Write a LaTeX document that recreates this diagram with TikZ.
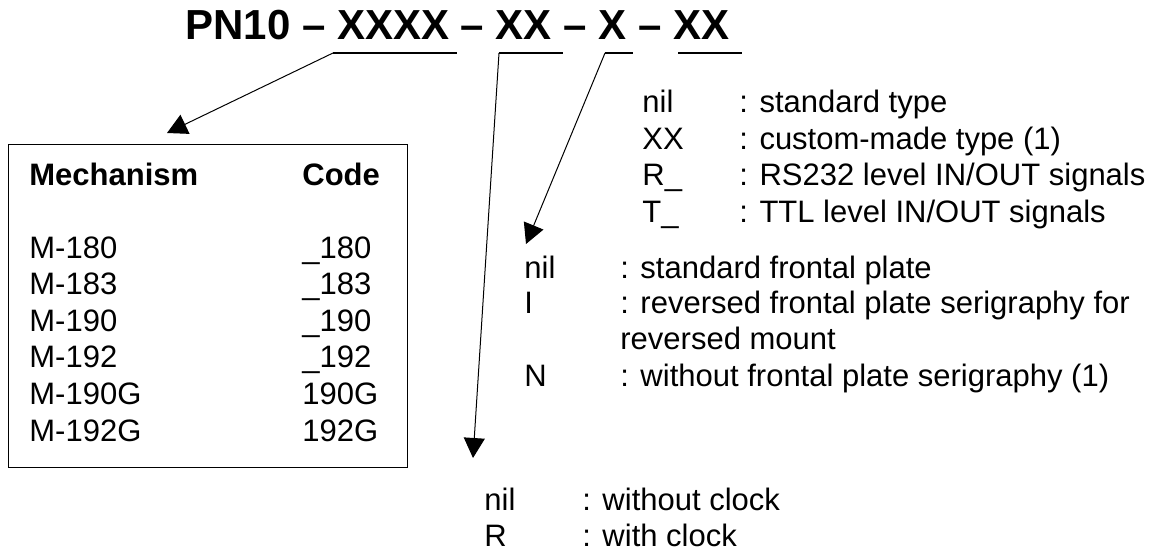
\documentclass[tikz,border=0pt]{standalone}
\usepackage{fontspec}
\setmainfont{Liberation Sans}
\usetikzlibrary{arrows.meta}

\begin{document}
\begin{tikzpicture}
        [   x = 0.5pt
        ,   y = -0.5pt
        ,   txt/.style =
            {   anchor = base west
            ,   inner sep = 0pt
            ,   font = \fontsize{15.5}{18}\selectfont
            }
        ,   head/.style =
            {   txt
            ,   font = \fontsize{15.5}{18}\selectfont\bfseries
            }
        ,   uline/.style =
            {   line width = 0.6pt
            }
        ,   leader/.style =
            {   line width = 0.5pt
            ,   -{Triangle[length=10pt,width=10.5pt]}
            }
        ]
        \useasboundingbox (0,0) rectangle (1160,551);
        % part number and its fields
        \node [txt, font = \fontsize{21}{25}\selectfont\bfseries] (title) at (185,40)
            {PN10 – XXXX – XX – X – XX};
        \coordinate (u1) at (333,53);
        \coordinate (u2) at (499,53);
        \coordinate (u3) at (605,53);
        \coordinate (u4) at (678,53);
        \draw [uline] (u1) -- +(124,0);
        \draw [uline] (u2) -- +(64,0);
        \draw [uline] (u3) -- +(28,0);
        \draw [uline] (u4) -- +(64,0);
        % mechanism table
        \node [draw, line width = 0.6pt, anchor = north west, minimum width = 199.5pt, minimum height = 161.5pt]
            (mechbox) at (8,144) {};
        \node [head] (mech) at (29,185) {Mechanism};
        \node [head] (code) at (302,185) {Code};
        \foreach \m/\c [count=\i from 0] in
            {M-180/\_180, M-183/\_183, M-190/\_190, M-192/\_192, M-190G/190G, M-192G/192G}
        {   \node [txt] (m\i) at (29,{258+36.6*\i}) {\m};
            \node [txt] (c\i) at (302,{258+36.6*\i}) {\c};
        }
        % serial type
        \node [txt] (st0) at (642,112.5) {nil};
        \node [txt] (sd0) at (739,112.5) {: standard type};
        \node [txt] (st1) at (642,149) {XX};
        \node [txt] (sd1) at (739,149) {: custom-made type (1)};
        \node [txt] (st2) at (642,185.5) {R\_};
        \node [txt] (sd2) at (739,185.5) {: RS232 level IN/OUT signals};
        \node [txt] (st3) at (642,222) {T\_};
        \node [txt] (sd3) at (739,222) {: TTL level IN/OUT signals};
        % frontal plate
        \node [txt] (fp0) at (524,278) {nil};
        \node [txt] (fd0) at (620,278) {: standard frontal plate};
        \node [txt] (fp1) at (524,313.5) {I};
        \node [txt] (fd1) at (620,313.5) {: reversed frontal plate serigraphy for};
        \node [txt] (fd1b) at (620,349.5) {reversed mount};
        \node [txt] (fp2) at (524,386.5) {N};
        \node [txt] (fd2) at (620,386.5) {: without frontal plate serigraphy (1)};
        % clock
        \node [txt] (ck0) at (484,510) {nil};
        \node [txt] (cd0) at (582,510) {: without clock};
        \node [txt] (ck1) at (484,546) {R};
        \node [txt] (cd1) at (582,546) {: with clock};
        % leaders
        \coordinate (t1) at (167,133);
        \coordinate (t2) at (473,458);
        \coordinate (t3) at (526,244);
        \draw [leader] (u1) -- (t1);
        \draw [leader] (u2) -- (t2);
        \draw [leader] (u3) -- (t3);
    \end{tikzpicture}
\end{document}
